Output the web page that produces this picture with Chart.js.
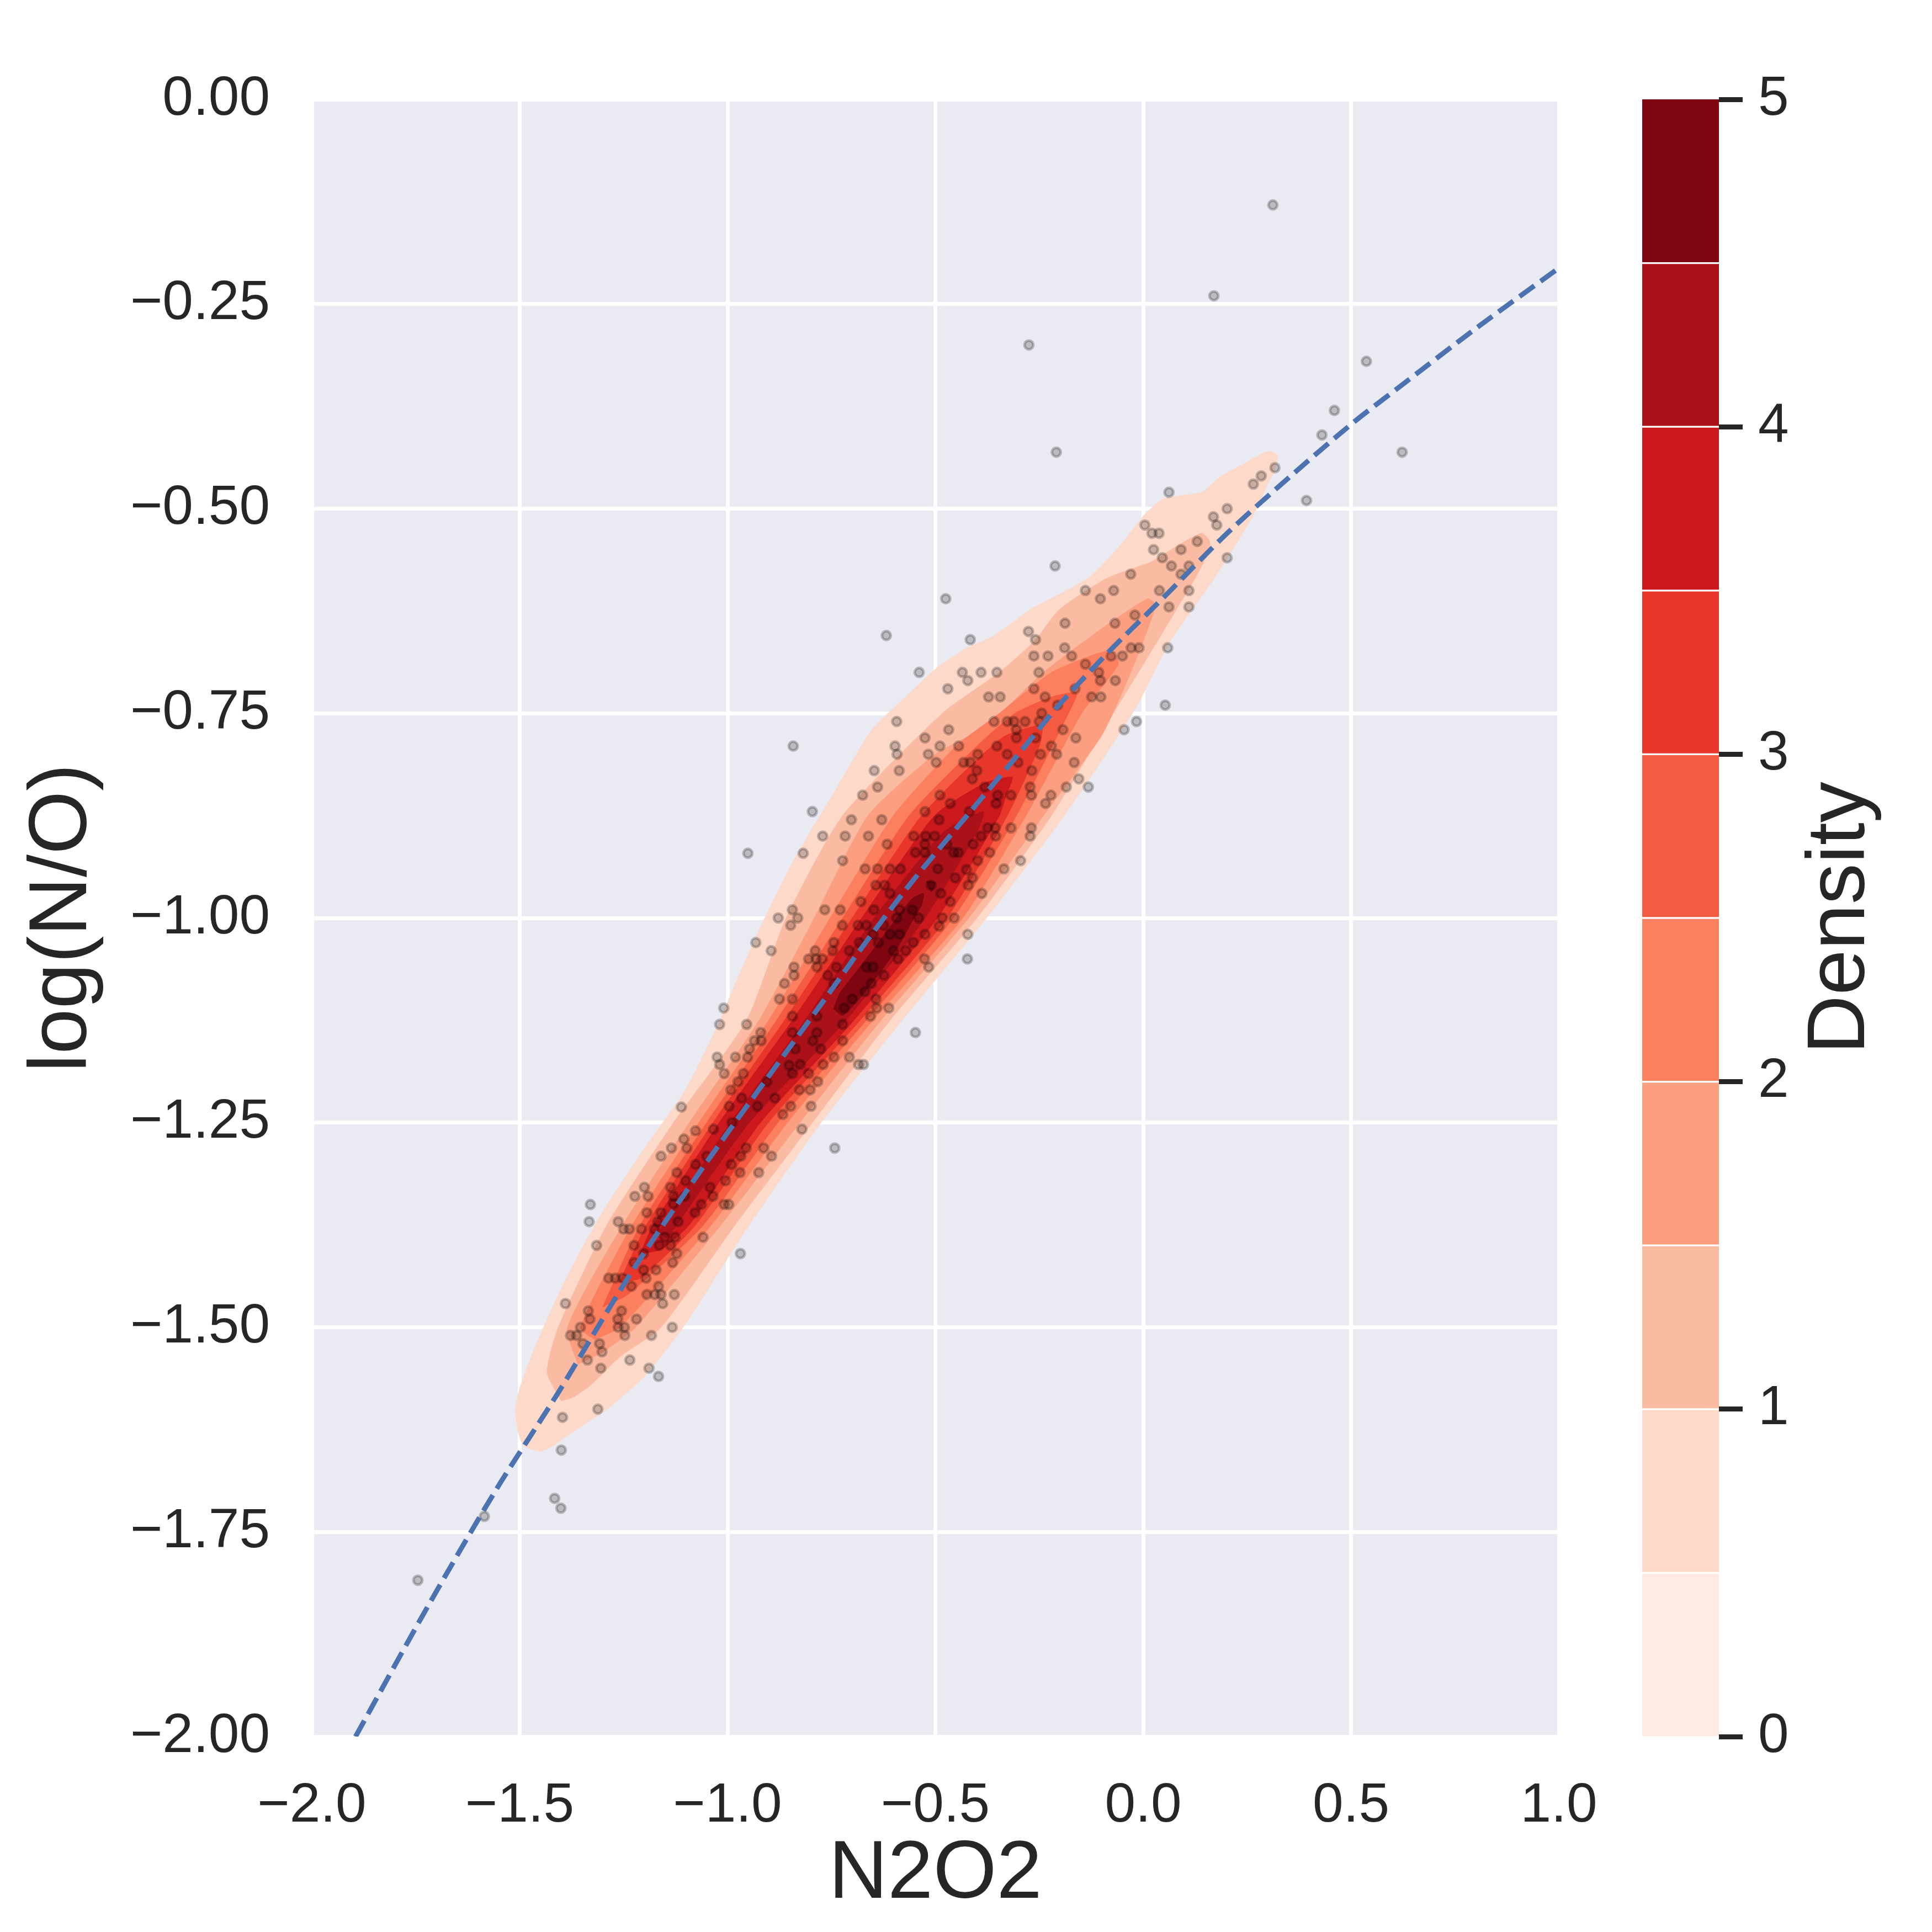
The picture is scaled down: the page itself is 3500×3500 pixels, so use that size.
<!DOCTYPE html>
<html>
<head>
<meta charset="utf-8">
<title>N2O2 vs log(N/O)</title>
<script src="https://cdn.jsdelivr.net/npm/chart.js@4.4.0/dist/chart.umd.min.js"></script>
<style>
html, body { margin:0; padding:0; background:#ffffff; }
#wrap { position:relative; width:3500px; height:3500px; }
#main { position:absolute; left:0; top:0; width:3500px; height:3500px; }
#bar { position:absolute; left:2900px; top:0; width:600px; height:3500px; }
</style>
</head>
<body>
<div id="wrap">
<canvas id="main" width="3500" height="3500"></canvas>
<canvas id="bar" width="600" height="3500"></canvas>
</div>
<script>
// axis ticks
var xTickValues = [-2.0, -1.5, -1.0, -0.5, 0.0, 0.5, 1.0];
var yTickValues = [0, -0.25, -0.5, -0.75, -1.0, -1.25, -1.5, -1.75, -2.0];
var cbTickValues = [0, 1, 2, 3, 4, 5];

// colorbar levels (density) and colours, bottom to top
var cbBounds = [0, 0.5, 1, 1.5, 2, 2.5, 3, 3.5, 4, 4.5, 5];
var cbColors = ['#feebe3','#fdd9ca','#fbbba2','#fc9e80','#fc7f5f','#f55b41','#e9362b','#ca181d','#ab1119','#7f0611'];

// filled kde contours (N2O2, log(N/O))
var contourL1 = [[-1.449,-1.652],[-1.49,-1.645],[-1.505,-1.625],[-1.51,-1.600],[-1.50,-1.575],[-1.457,-1.517],[-1.388,-1.440],[-1.305,-1.363],[-1.206,-1.286],[-1.100,-1.209],[-1.024,-1.132],[-0.981,-1.080],[-0.913,-1.003],[-0.837,-0.926],[-0.745,-0.848],[-0.654,-0.771],[-0.578,-0.733],[-0.495,-0.694],[-0.426,-0.671],[-0.358,-0.655],[-0.270,-0.623],[-0.133,-0.585],[-0.057,-0.546],[0.004,-0.507],[0.049,-0.488],[0.140,-0.480],[0.186,-0.461],[0.239,-0.446],[0.300,-0.430],[0.323,-0.435],[0.315,-0.455],[0.300,-0.469],[0.266,-0.507],[0.171,-0.585],[0.065,-0.662],[-0.020,-0.745],[-0.190,-0.875],[-0.377,-1.000],[-0.580,-1.125],[-0.775,-1.250],[-0.948,-1.375],[-1.107,-1.500],[-1.200,-1.560],[-1.290,-1.600],[-1.373,-1.628],[-1.420,-1.645]];
var contourL2 = [[-1.400,-1.590],[-1.434,-1.555],[-1.407,-1.500],[-1.290,-1.375],[-1.130,-1.250],[-0.954,-1.125],[-0.859,-1.000],[-0.723,-0.875],[-0.483,-0.750],[-0.346,-0.700],[-0.262,-0.662],[-0.201,-0.623],[-0.087,-0.585],[0.019,-0.565],[0.080,-0.546],[0.141,-0.530],[0.160,-0.540],[0.156,-0.554],[0.125,-0.585],[0.080,-0.623],[0.034,-0.662],[-0.072,-0.750],[-0.221,-0.875],[-0.400,-1.000],[-0.609,-1.125],[-0.796,-1.250],[-0.982,-1.375],[-1.160,-1.500],[-1.259,-1.536],[-1.328,-1.570],[-1.370,-1.585]];
var contourL3 = [[-1.360,-1.545],[-1.385,-1.500],[-1.252,-1.375],[-1.092,-1.250],[-0.924,-1.125],[-0.791,-1.000],[-0.662,-0.875],[-0.500,-0.800],[-0.376,-0.765],[-0.240,-0.700],[-0.087,-0.642],[0.011,-0.610],[0.030,-0.618],[-0.030,-0.700],[-0.100,-0.777],[-0.240,-0.875],[-0.420,-1.000],[-0.631,-1.125],[-0.826,-1.250],[-1.016,-1.375],[-1.221,-1.500],[-1.300,-1.530]];
var contourL4 = [[-1.320,-1.515],[-1.354,-1.500],[-1.229,-1.375],[-1.069,-1.250],[-0.901,-1.125],[-0.753,-1.000],[-0.601,-0.875],[-0.450,-0.790],[-0.346,-0.750],[-0.220,-0.700],[-0.080,-0.673],[-0.060,-0.690],[-0.148,-0.750],[-0.282,-0.875],[-0.434,-1.000],[-0.650,-1.125],[-0.856,-1.250],[-1.039,-1.375],[-1.259,-1.500]];
var contourL5 = [[-1.300,-1.475],[-1.210,-1.375],[-1.050,-1.250],[-0.882,-1.125],[-0.723,-1.000],[-0.563,-0.875],[-0.400,-0.790],[-0.308,-0.750],[-0.220,-0.730],[-0.160,-0.725],[-0.175,-0.745],[-0.305,-0.875],[-0.457,-1.000],[-0.666,-1.125],[-0.879,-1.250],[-1.058,-1.375],[-1.240,-1.460]];
var contourL6 = [[-1.260,-1.445],[-1.195,-1.375],[-1.035,-1.250],[-0.863,-1.125],[-0.700,-1.000],[-0.533,-0.875],[-0.340,-0.780],[-0.245,-0.765],[-0.250,-0.790],[-0.327,-0.875],[-0.472,-1.000],[-0.681,-1.125],[-0.902,-1.250],[-1.077,-1.375],[-1.210,-1.440]];
var contourL7 = [[-1.210,-1.410],[-1.179,-1.375],[-1.020,-1.250],[-0.844,-1.125],[-0.677,-1.000],[-0.502,-0.875],[-0.380,-0.835],[-0.315,-0.828],[-0.330,-0.850],[-0.346,-0.875],[-0.495,-1.000],[-0.696,-1.125],[-0.921,-1.250],[-1.092,-1.375],[-1.160,-1.405]];
var contourL8 = [[-1.165,-1.385],[-1.155,-1.375],[-0.993,-1.250],[-0.814,-1.125],[-0.647,-1.000],[-0.480,-0.895],[-0.385,-0.870],[-0.400,-0.895],[-0.525,-1.000],[-0.715,-1.125],[-0.948,-1.250],[-1.122,-1.375],[-1.145,-1.390]];
var contourL9a = [[-0.745,-1.111],[-0.730,-1.092],[-0.677,-1.057],[-0.631,-1.026],[-0.586,-0.995],[-0.555,-0.976],[-0.529,-0.970],[-0.533,-0.984],[-0.555,-1.003],[-0.593,-1.038],[-0.631,-1.065],[-0.677,-1.095],[-0.723,-1.119]];
var contourL9b = [[-0.522,-0.955],[-0.500,-0.957],[-0.510,-0.968]];

// dashed fit curve
var fitX = [-1.895,-1.72,-1.555,-1.41,-1.23,-1.054,-0.905,-0.783,-0.662,-0.555,-0.419,-0.297,-0.206,-0.087,0.05,0.202,0.353,0.505,0.612,0.80,1.0];
var fitY = [-2.0,-1.84,-1.697,-1.582,-1.432,-1.301,-1.196,-1.111,-1.026,-0.955,-0.872,-0.798,-0.742,-0.677,-0.608,-0.530,-0.461,-0.395,-0.353,-0.280,-0.206];

// individual galaxies [N2O2, log(N/O)]
var samples = [
[-1.111,-1.231],[-1.077,-1.260],[-0.742,-1.281],[-1.105,-1.270],[-1.098,-1.281],[-1.135,-1.281],[-1.160,-1.291],[-1.050,-1.291],
[-1.077,-1.301],[-0.991,-1.301],[-0.970,-1.311],[-0.925,-1.311],[-0.955,-1.281],[-0.913,-1.281],[-0.894,-1.291],[-0.968,-1.291],
[-1.005,-1.321],[-1.042,-1.329],[-1.035,-1.340],[-1.101,-1.321],[-1.122,-1.311],[-1.137,-1.329],[-1.130,-1.340],[-1.103,-1.340],
[-1.063,-1.350],[-1.008,-1.350],[-0.997,-1.350],[-1.078,-1.360],[-1.119,-1.371],[-1.130,-1.349],[-1.160,-1.360],[-1.194,-1.360],
[-1.168,-1.371],[-1.176,-1.380],[-1.126,-1.390],[-1.151,-1.390],[-1.059,-1.390],[-1.200,-1.329],[-1.191,-1.340],[-1.223,-1.340],
[-1.330,-1.350],[-1.333,-1.371],[-1.263,-1.371],[-1.250,-1.380],[-1.236,-1.380],[-1.207,-1.380],[-1.315,-1.400],[-1.225,-1.400],
[-1.164,-1.400],[-1.137,-1.400],[-1.202,-1.410],[-1.122,-1.410],[-0.969,-1.410],[-1.225,-1.421],[-1.132,-1.421],[-1.202,-1.430],
[-1.172,-1.430],[-1.286,-1.440],[-1.270,-1.440],[-1.252,-1.440],[-1.196,-1.440],[-1.231,-1.450],[-1.166,-1.450],[-1.194,-1.460],
[-1.175,-1.460],[-1.160,-1.460],[-1.128,-1.460],[-1.156,-1.471],[-1.390,-1.471],[-1.335,-1.480],[-1.331,-1.490],[-1.255,-1.480],
[-1.264,-1.490],[-1.219,-1.490],[-1.354,-1.500],[-1.263,-1.500],[-1.248,-1.500],[-1.133,-1.500],[-1.378,-1.510],[-1.363,-1.510],
[-1.247,-1.510],[-1.183,-1.510],[-1.348,-1.520],[-1.308,-1.520],[-1.302,-1.530],[-1.337,-1.540],[-1.235,-1.540],[-1.305,-1.550],
[-1.189,-1.550],[-1.166,-1.560],[-1.312,-1.600],[-1.397,-1.610],[-1.400,-1.650],
[-0.618,-0.655],[-0.416,-0.660],[-0.259,-0.660],[-0.539,-0.700],[-0.435,-0.700],[-0.390,-0.700],[-0.352,-0.700],[-0.422,-0.710],
[-0.251,-0.700],[-0.263,-0.680],[-0.229,-0.680],[-0.189,-0.670],[-0.172,-0.680],[-0.139,-0.690],[-0.107,-0.700],[-0.103,-0.710],
[-0.067,-0.710],[-0.077,-0.680],[-0.050,-0.680],[-0.029,-0.670],[-0.010,-0.670],[0.059,-0.670],[0.053,-0.740],[-0.016,-0.760],
[-0.046,-0.770],[-0.470,-0.720],[-0.372,-0.730],[-0.344,-0.730],[-0.263,-0.720],[-0.236,-0.730],[-0.164,-0.720],[-0.124,-0.730],
[-0.102,-0.730],[-0.206,-0.740],[-0.244,-0.750],[-0.593,-0.760],[-0.468,-0.770],[-0.525,-0.780],[-0.489,-0.790],[-0.444,-0.790],
[-0.597,-0.790],[-0.592,-0.800],[-0.517,-0.800],[-0.498,-0.810],[-0.432,-0.810],[-0.416,-0.810],[-0.398,-0.800],[-0.359,-0.760],
[-0.327,-0.760],[-0.311,-0.760],[-0.284,-0.760],[-0.250,-0.760],[-0.305,-0.770],[-0.305,-0.780],[-0.259,-0.780],[-0.193,-0.770],
[-0.162,-0.780],[-0.221,-0.790],[-0.247,-0.800],[-0.208,-0.800],[-0.327,-0.800],[-0.352,-0.790],[-0.301,-0.810],[-0.268,-0.820],
[-0.166,-0.810],[-0.155,-0.830],[-0.132,-0.840],[-0.185,-0.840],[-0.222,-0.850],[-0.235,-0.860],[-0.269,-0.850],[-0.272,-0.840],
[-0.318,-0.850],[-0.354,-0.860],[-0.350,-0.850],[-0.381,-0.840],[-0.411,-0.830],[-0.400,-0.820],[-0.647,-0.820],[-0.639,-0.840],
[-0.675,-0.850],[-0.587,-0.820],[-0.842,-0.790],[-0.796,-0.870],[-0.702,-0.880],[-0.629,-0.880],[-0.771,-0.900],[-0.717,-0.900],
[-0.661,-0.900],[-0.616,-0.910],[-0.525,-0.870],[-0.489,-0.850],[-0.464,-0.860],[-0.491,-0.880],[-0.418,-0.870],[-0.374,-0.890],
[-0.356,-0.890],[-0.355,-0.900],[-0.318,-0.890],[-0.269,-0.890],[-0.272,-0.900],[-0.390,-0.900],[-0.409,-0.910],[-0.445,-0.920],
[-0.456,-0.920],[-0.552,-0.900],[-0.523,-0.900],[-0.502,-0.900],[-0.548,-0.920],[-0.525,-0.920],[-0.525,-0.910],[-0.472,-0.910],
[-0.369,-0.920],[-0.398,-0.930],[-0.425,-0.941],[-0.335,-0.940],[-0.295,-0.930],[-0.951,-0.921],[-0.818,-0.921],[-0.723,-0.930],
[-0.669,-0.940],[-0.639,-0.940],[-0.609,-0.940],[-0.584,-0.940],[-0.494,-0.940],[-0.452,-0.951],[-0.421,-0.960],[-0.411,-0.951],
[-0.388,-0.970],[-0.487,-0.970],[-0.510,-0.960],[-0.464,-0.980],[-0.609,-0.970],[-0.643,-0.960],[-0.622,-0.960],[-0.679,-0.980],
[-0.648,-0.990],[-0.586,-0.990],[-0.555,-0.990],[-0.540,-1.000],[-0.491,-1.010],[-0.455,-1.000],[-0.483,-1.000],[-0.422,-1.020],
[-0.423,-1.050],[-0.525,-1.020],[-0.526,-1.050],[-0.516,-1.060],[-0.766,-0.990],[-0.729,-0.990],[-0.844,-0.990],[-0.878,-1.000],
[-0.831,-1.000],[-0.848,-1.009],[-0.724,-1.009],[-0.686,-1.009],[-0.666,-1.009],[-0.624,-1.009],[-0.593,-1.000],[-0.650,-1.020],
[-0.609,-1.020],[-0.586,-1.020],[-0.553,-1.030],[-0.637,-1.030],[-0.683,-1.030],[-0.744,-1.030],[-0.707,-1.040],[-0.747,-1.040],
[-0.789,-1.040],[-0.932,-1.030],[-0.895,-1.040],[-0.805,-1.050],[-0.787,-1.050],[-0.772,-1.050],[-0.785,-1.060],[-0.840,-1.060],
[-0.840,-1.070],[-0.738,-1.060],[-0.666,-1.060],[-0.650,-1.060],[-0.624,-1.070],[-0.601,-1.040],[-0.571,-1.040],[-0.590,-1.050],
[-0.759,-1.070],[-0.863,-1.080],[-0.744,-1.080],[-0.654,-1.080],[-0.669,-1.090],[-0.700,-1.099],[-0.643,-1.099],[-0.612,-1.110],
[-0.641,-1.110],[-0.656,-1.120],[-0.719,-1.110],[-0.723,-1.130],[-0.723,-1.150],[-0.785,-1.120],[-0.785,-1.140],[-0.844,-1.120],
[-0.875,-1.099],[-0.844,-1.099],[-1.009,-1.110],[-1.019,-1.130],[-0.954,-1.130],[-0.920,-1.140],[-0.919,-1.150],[-0.935,-1.150],
[-0.947,-1.160],[-0.844,-1.140],[-0.795,-1.150],[-0.776,-1.160],[-0.837,-1.160],[-0.825,-1.179],[-0.844,-1.190],[-0.805,-1.190],
[-0.744,-1.170],[-0.707,-1.170],[-0.770,-1.179],[-0.783,-1.200],[-0.548,-1.140],[-0.685,-1.179],[-0.673,-1.179],[-1.025,-1.170],
[-0.981,-1.170],[-0.952,-1.170],[-1.019,-1.179],[-1.008,-1.190],[-0.962,-1.190],[-0.975,-1.200],[-0.992,-1.210],[-0.966,-1.220],
[-0.905,-1.200],[-0.886,-1.220],[-0.928,-1.230],[-0.996,-1.230],[-0.848,-1.230],[-0.827,-1.210],[-0.801,-1.210],[-0.799,-1.230],
[-0.867,-1.240],[-0.989,-1.250],[-1.034,-1.258],[-0.821,-1.258],[-0.852,-1.180],
[-0.209,-0.431],[0.062,-0.480],[0.317,-0.450],[0.284,-0.460],[0.265,-0.470],[0.460,-0.380],[0.430,-0.410],[0.623,-0.431],
[0.393,-0.490],[0.202,-0.500],[0.169,-0.510],[0.177,-0.520],[0.004,-0.520],[0.021,-0.530],[0.038,-0.530],[0.025,-0.550],
[0.091,-0.550],[0.130,-0.540],[0.046,-0.560],[0.068,-0.570],[0.110,-0.570],[0.091,-0.580],[0.202,-0.560],[-0.212,-0.570],
[-0.030,-0.580],[-0.139,-0.600],[-0.103,-0.610],[-0.071,-0.600],[0.039,-0.600],[0.110,-0.600],[0.062,-0.620],[0.110,-0.620],
[-0.475,-0.610],[-0.020,-0.630],[-0.068,-0.640],[-0.188,-0.640],[-0.276,-0.650],
[0.312,-0.129],[0.170,-0.240],[-0.275,-0.300],[0.537,-0.320],[-1.745,-1.809],[-1.585,-1.731],[-1.416,-1.709],[-1.401,-1.721]
];

var levelColors = ['#fdd9ca','#fbbba2','#fc9e80','#fc7f5f','#f55b41','#e9362b','#ca181d','#ab1119','#7f0611','#7f0611'];
var contours = [contourL1, contourL2, contourL3, contourL4, contourL5, contourL6, contourL7, contourL8, contourL9a, contourL9b];

function toXY(pairs) { return pairs.map(function (p) { return {x: p[0], y: p[1]}; }); }
function closed(pairs) { return toXY(pairs.concat([pairs[0]])); }
function minus(s) { return s.replace('-', '\u2212'); }

Chart.defaults.font.family = '"Liberation Sans", Arial, sans-serif';
Chart.defaults.color = '#262626';

var ink = '#262626';

var datasets = [];
datasets.push({
  type: 'line',
  data: fitX.map(function (x, i) { return {x: x, y: fitY[i]}; }),
  borderColor: '#4c72b0',
  borderWidth: 9,
  borderDash: [33, 14],
  pointRadius: 0,
  tension: 0.3,
  fill: false,
  order: 0
});
datasets.push({
  type: 'scatter',
  data: toXY(samples),
  backgroundColor: 'rgba(0,0,0,0.2)',
  borderColor: 'rgba(0,0,0,0.22)',
  borderWidth: 5,
  pointRadius: 8,
  order: 1
});
contours.forEach(function (c, i) {
  datasets.push({
    type: 'line',
    data: closed(c),
    backgroundColor: levelColors[i],
    borderColor: levelColors[i],
    borderWidth: 1,
    pointRadius: 0,
    tension: 0.2,
    fill: 'shape',
    order: 30 - i
  });
});

var panelBg = {
  id: 'panelBg',
  beforeDraw: function (chart) {
    var a = chart.chartArea, ctx = chart.ctx;
    ctx.save();
    ctx.fillStyle = '#eaeaf2';
    ctx.fillRect(a.left, a.top, a.right - a.left, a.bottom - a.top);
    ctx.restore();
  }
};

new Chart(document.getElementById('main'), {
  type: 'scatter',
  data: { datasets: datasets },
  options: {
    responsive: false,
    devicePixelRatio: 1,
    animation: false,
    layout: { padding: { left: 0, top: 180, right: 676, bottom: 0 } },
    plugins: { legend: { display: false }, tooltip: { enabled: false } },
    scales: {
      x: {
        type: 'linear', min: -2, max: 1,
        afterBuildTicks: function (s) { s.ticks = xTickValues.map(function (v) { return {value: v}; }); },
        afterFit: function (s) { s.height = 354; },
        ticks: { font: { size: 100 }, color: ink, padding: 66, maxRotation: 0,
                 callback: function (v) { return minus(Number(v).toFixed(1)); } },
        grid: { color: '#ffffff', lineWidth: 7, drawTicks: false },
        border: { display: false },
        title: { display: true, text: 'N2O2', color: ink, font: { size: 148 }, padding: { top: 0, bottom: 14 } }
      },
      y: {
        type: 'linear', min: -2, max: 0,
        afterBuildTicks: function (s) { s.ticks = yTickValues.map(function (v) { return {value: v}; }); },
        afterFit: function (s) { s.width = 565; },
        ticks: { font: { size: 100 }, color: ink, padding: 76,
                 callback: function (v) { return minus(Number(v).toFixed(2)); } },
        grid: { color: '#ffffff', lineWidth: 7, drawTicks: false },
        border: { display: false },
        title: { display: true, text: 'log(N/O)', color: ink, font: { size: 148 }, padding: { top: 26, bottom: 0 } }
      }
    }
  },
  plugins: [panelBg]
});

// colour bar
var barSets = cbColors.map(function (col, i) {
  var bw = {top: 2, bottom: 2, left: 0, right: 0};
  if (i === 0) bw.bottom = 0;
  if (i === cbColors.length - 1) bw.top = 0;
  return {
    data: [[cbBounds[i], cbBounds[i + 1]]],
    backgroundColor: col,
    borderColor: '#ffffff',
    borderWidth: bw,
    borderSkipped: false,
    grouped: false,
    barPercentage: 1,
    categoryPercentage: 1
  };
});

var barTitle = {
  id: 'barTitle',
  afterDraw: function (chart) {
    var a = chart.chartArea, ctx = chart.ctx;
    ctx.save();
    ctx.translate(477, (a.top + a.bottom) / 2);
    ctx.rotate(-Math.PI / 2);
    ctx.fillStyle = ink;
    ctx.font = '148px "Liberation Sans", Arial, sans-serif';
    ctx.textAlign = 'center';
    ctx.textBaseline = 'alphabetic';
    ctx.fillText('Density', 0, 0);
    ctx.restore();
  }
};

new Chart(document.getElementById('bar'), {
  type: 'bar',
  data: { labels: [''], datasets: barSets },
  options: {
    responsive: false,
    devicePixelRatio: 1,
    animation: false,
    layout: { padding: { left: 75, top: 180, right: 0, bottom: 354 } },
    plugins: { legend: { display: false }, tooltip: { enabled: false } },
    scales: {
      x: { display: false },
      y: {
        position: 'right', min: 0, max: 5,
        afterBuildTicks: function (s) { s.ticks = cbTickValues.map(function (v) { return {value: v}; }); },
        afterFit: function (s) { s.width = 386; },
        ticks: { font: { size: 100 }, color: ink, padding: 28 },
        grid: { drawOnChartArea: false, drawTicks: true, tickLength: 43, tickWidth: 9, tickColor: ink },
        border: { display: false }
      }
    }
  },
  plugins: [barTitle]
});
</script>
</body>
</html>
